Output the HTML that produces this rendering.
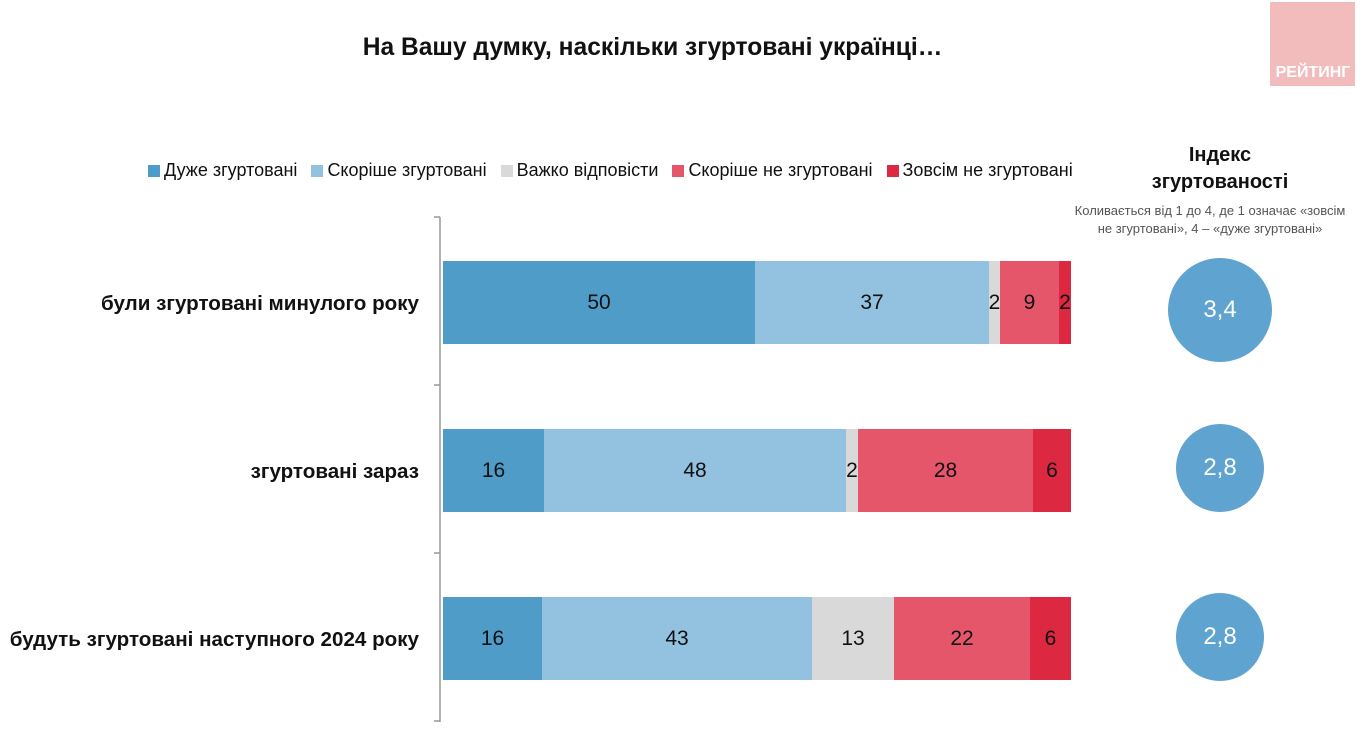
<!DOCTYPE html>
<html><head><meta charset="utf-8"><style>
body{margin:0;width:1367px;height:740px;background:#fff;font-family:"Liberation Sans",sans-serif;position:relative;overflow:hidden}
.a{position:absolute}
.t{left:0;width:1305px;text-align:center;top:34px;font-size:24.6px;font-weight:bold;color:#111}
.lg{top:160px;left:148px;font-size:18px;color:#111;white-space:nowrap}
.lg span{display:inline-block;width:12px;height:12px;margin:0 4px 0 0;vertical-align:-1px}
.lg b{font-weight:normal;margin-right:14px}
.bar{position:absolute;height:83px;display:flex;align-items:center;justify-content:center;font-size:21px;color:#111}
.lab{position:absolute;right:948px;font-size:20.6px;font-weight:bold;color:#111;white-space:nowrap}
.c{position:absolute;border-radius:50%;background:#5fa3d0;color:#fff;display:flex;align-items:center;justify-content:center;font-size:24px}
</style></head><body>
<div class="a t">На Вашу думку, наскільки згуртовані українці…</div>
<div class="a" style="left:1270px;top:2px;width:85px;height:84px;background:#f2bcbc"></div>
<div class="a" style="left:1272px;top:64px;width:82px;text-align:center;color:#fff;font-weight:bold;font-size:16px">РЕЙТИНГ</div>
<div class="a lg"><span style="background:#4f9cc9"></span><b>Дуже згуртовані</b><span style="background:#93c1e0"></span><b>Скоріше згуртовані</b><span style="background:#d9d9d9"></span><b>Важко відповісти</b><span style="background:#e5566b"></span><b>Скоріше не згуртовані</b><span style="background:#dc2841"></span><b>Зовсім не згуртовані</b></div>
<div class="a" style="left:1130px;top:142px;width:180px;text-align:center;font-size:20px;font-weight:bold;color:#111;line-height:27px">Індекс<br>згуртованості</div>
<div class="a" style="left:1050px;top:202px;width:320px;text-align:center;font-size:13px;color:#555;line-height:18px">Коливається від 1 до 4, де 1 означає «зовсім<br>не згуртовані», 4 – «дуже згуртовані»</div>
<svg class="a" style="left:0;top:0" width="1367" height="740"><g stroke="#999" stroke-width="1.5"><line x1="440" y1="217" x2="440" y2="722"/><line x1="434" y1="217" x2="440" y2="217"/><line x1="434" y1="385" x2="440" y2="385"/><line x1="434" y1="553" x2="440" y2="553"/><line x1="434" y1="721" x2="440" y2="721"/></g></svg>
<div class="lab" style="top:292px">були згуртовані минулого року</div>
<div class="lab" style="top:460px">згуртовані зараз</div>
<div class="lab" style="top:628px">будуть згуртовані наступного 2024 року</div>

<div class="bar" style="top:261px;left:443px;width:312px;background:#4f9cc9">50</div>
<div class="bar" style="top:261px;left:755px;width:234px;background:#93c1e0">37</div>
<div class="bar" style="top:261px;left:989px;width:11px;background:#d9d9d9">2</div>
<div class="bar" style="top:261px;left:1000px;width:59px;background:#e5566b">9</div>
<div class="bar" style="top:261px;left:1059px;width:12px;background:#dc2841">2</div>

<div class="bar" style="top:429px;left:443px;width:101px;background:#4f9cc9">16</div>
<div class="bar" style="top:429px;left:544px;width:302px;background:#93c1e0">48</div>
<div class="bar" style="top:429px;left:846px;width:12px;background:#d9d9d9">2</div>
<div class="bar" style="top:429px;left:858px;width:175px;background:#e5566b">28</div>
<div class="bar" style="top:429px;left:1033px;width:38px;background:#dc2841">6</div>

<div class="bar" style="top:597px;left:443px;width:99px;background:#4f9cc9">16</div>
<div class="bar" style="top:597px;left:542px;width:270px;background:#93c1e0">43</div>
<div class="bar" style="top:597px;left:812px;width:82px;background:#d9d9d9">13</div>
<div class="bar" style="top:597px;left:894px;width:136px;background:#e5566b">22</div>
<div class="bar" style="top:597px;left:1030px;width:41px;background:#dc2841">6</div>

<div class="c" style="left:1168px;top:258px;width:104px;height:104px">3,4</div>
<div class="c" style="left:1176px;top:424px;width:88px;height:88px">2,8</div>
<div class="c" style="left:1176px;top:593px;width:88px;height:88px">2,8</div>
</body></html>
